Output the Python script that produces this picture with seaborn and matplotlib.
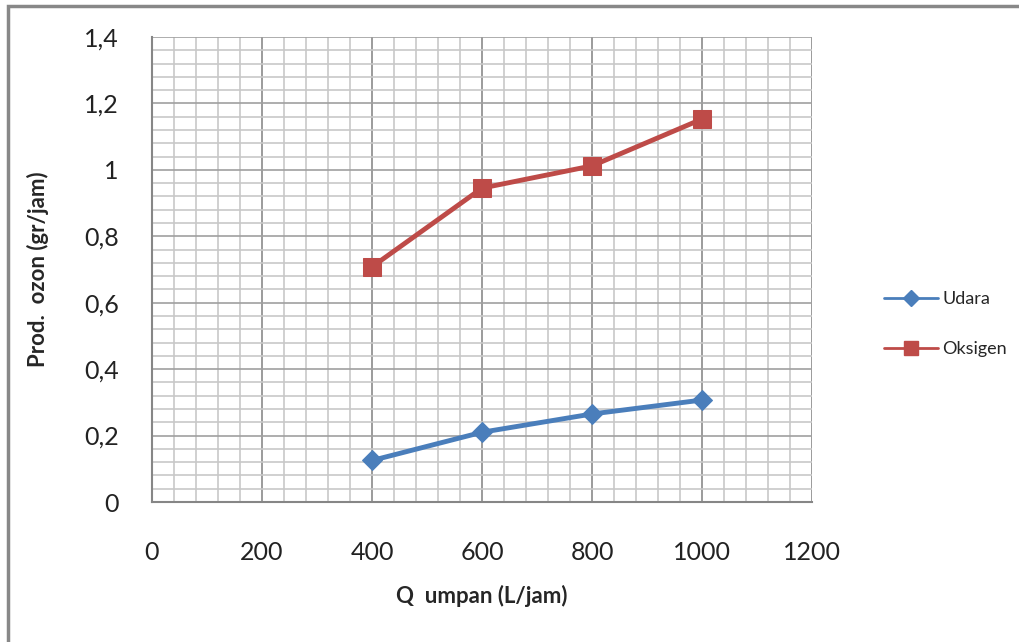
import matplotlib
matplotlib.use("Agg")
import matplotlib.pyplot as plt
import seaborn as sns
import pandas as pd
from matplotlib.ticker import MultipleLocator, FuncFormatter
from matplotlib.lines import Line2D
from matplotlib.patches import Rectangle

q_umpan = [400, 600, 800, 1000]
udara = [0.125, 0.21, 0.265, 0.307]
oksigen = [0.708, 0.945, 1.012, 1.153]
series_names = ["Udara", "Oksigen"]
x_ticks = [0, 200, 400, 600, 800, 1000, 1200]
y_ticks = [0, 0.2, 0.4, 0.6, 0.8, 1.0, 1.2, 1.4]

df = pd.DataFrame({
    "Q": q_umpan * 2,
    "val": udara + oksigen,
    "series": [series_names[0]] * 4 + [series_names[1]] * 4,
})

sns.set_style("white")
plt.rcParams['font.family'] = ['Lato', 'DejaVu Sans']

fig = plt.figure(figsize=(10.2, 6.42), dpi=100)
ax = fig.add_axes([152/1020, 1-502/642, (812-152)/1020, (502-37)/642])

colors = {"Udara": "#4A7EBB", "Oksigen": "#BE4B48"}
markers = {"Udara": "D", "Oksigen": "s"}
msize = {"Udara": 10, "Oksigen": 13}
for name in series_names:
    sub = df[df.series == name]
    sns.lineplot(data=sub, x="Q", y="val", ax=ax, color=colors[name],
                 linewidth=3.5, marker=markers[name], markersize=msize[name],
                 markeredgecolor=colors[name], legend=False, zorder=5)

ax.set_xlim(0, 1200)
ax.set_ylim(0, 1.4)
ax.xaxis.set_minor_locator(MultipleLocator(40))
ax.yaxis.set_minor_locator(MultipleLocator(0.04))
ax.set_xticks(x_ticks)
ax.set_yticks(y_ticks)

def yfmt(v, pos):
    s = ("%.1f" % v).rstrip("0").rstrip(".")
    return s.replace(".", ",")
ax.yaxis.set_major_formatter(FuncFormatter(yfmt))

ax.grid(which="minor", color="#c8c8c8", linewidth=1.2)
ax.grid(which="major", axis="x", color="#8a8a8a", linewidth=1.2)
ax.grid(which="major", axis="y", color="#a0a0a0", linewidth=1.2)
ax.set_axisbelow(True)

for s in ["top", "right"]:
    ax.spines[s].set_visible(False)
for s in ["left", "bottom"]:
    ax.spines[s].set_color("#868686")
    ax.spines[s].set_linewidth(1.5)

ax.tick_params(which="major", direction="out", length=8, width=1.2, color="#868686",
               labelsize=18, labelcolor="#222222")
ax.tick_params(which="minor", length=0)
ax.tick_params(axis="x", pad=20)
ax.tick_params(axis="y", pad=16)

ax.set_xlabel("Q  umpan (L/jam)", fontsize=16, fontweight="bold", labelpad=15)
ax.set_ylabel("Prod.  ozon (gr/jam)", fontsize=16, fontweight="bold", labelpad=25)

handles = [Line2D([], [], color=colors[n], marker=markers[n], linewidth=2,
                  markersize=8 if n == "Udara" else 10, markeredgecolor=colors[n])
           for n in series_names]
fig.legend(handles, series_names, loc="center left", bbox_to_anchor=(868/1020, 1-324/642),
           frameon=False, fontsize=13, handlelength=3, labelspacing=1.9, handletextpad=0.2)

fig.patches.append(Rectangle((8/1020, -0.1), 1.2, 1-6/642+0.1, transform=fig.transFigure,
                             fill=False, edgecolor="#888888", linewidth=2.5, zorder=10))

fig.savefig("out.png", dpi=100)
